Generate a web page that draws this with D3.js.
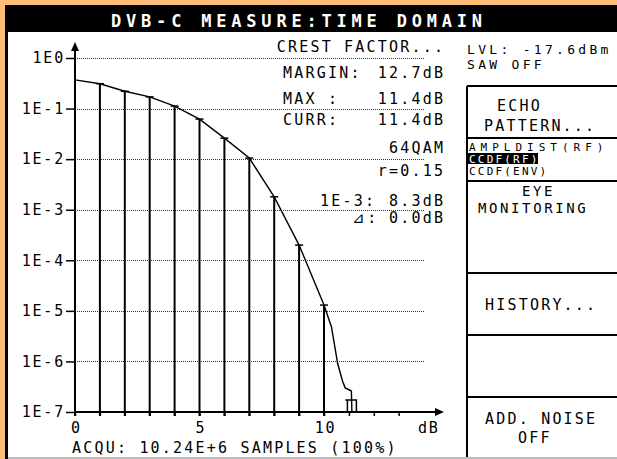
<!DOCTYPE html>
<html>
<head>
<meta charset="UTF-8">
<script src="https://d3js.org/d3.v7.min.js"></script>
<title>DVB-C CCDF</title>
<style>
  html,body{margin:0;padding:0;background:#fff;overflow:hidden;}
  #container{position:absolute;left:0;top:0;}
  svg{display:block;}
  text{font-family:"DejaVu Sans Mono",monospace;fill:#000;}
</style>
</head>
<body>
<div id="container"></div>
<script>
// CCDF curve (dB above mean power, probability)
var dbVals   = [0, 1, 2, 3, 4, 5, 6, 7, 8, 9, 10, 10.3, 10.55, 10.75, 10.85, 11.1, 11.12];
var ccdfVals = [0.37, 0.31, 0.22, 0.17, 0.112, 0.062, 0.026, 0.0105, 0.0018, 2.0e-4, 1.3e-5, 4.8e-6, 9e-7, 4e-7, 3e-7, 2.6e-7, 1e-7];
var barDb = [0, 1, 2, 3, 4, 5, 6, 7, 8, 9, 10];   // vertical bars at integer dB
var yTicks = [1, 1e-1, 1e-2, 1e-3, 1e-4, 1e-5, 1e-6, 1e-7];
var yLabels = ["1E0", "1E-1", "1E-2", "1E-3", "1E-4", "1E-5", "1E-6", "1E-7"];
var xTicks = [0, 1, 2, 3, 4, 5, 6, 7, 8, 9, 10, 11, 12, 13];
var xLabels = {0: "0", 5: "5", 10: "10"};
var maxMarkDb = 11.1;

var W = 617, H = 459;
var svg = d3.select("#container").append("svg")
  .attr("width", W).attr("height", H);

// screen frame
svg.append("rect").attr("x", 0).attr("y", 0).attr("width", W + 20).attr("height", H + 20).attr("fill", "#000");
svg.append("rect").attr("x", 0).attr("y", 0).attr("width", W + 20).attr("height", 5).attr("fill", "#FFBE78");
svg.append("rect").attr("x", 0).attr("y", 0).attr("width", 5).attr("height", H + 20).attr("fill", "#FFBE78");
svg.append("rect").attr("x", 8).attr("y", 32).attr("width", W + 20).attr("height", 425).attr("fill", "#fff");
svg.append("rect").attr("x", 8).attr("y", 457).attr("width", W + 20).attr("height", 20).attr("fill", "#bbb");
svg.append("text").attr("x", 111).attr("y", 27)
  .style("font-size", "17px").style("font-weight", "bold").style("letter-spacing", "4.8px")
  .style("fill", "#fff").text("DVB-C MEASURE:TIME DOMAIN");

var x = d3.scaleLinear().domain([0, 10]).range([75, 324]);
var y = d3.scaleLog().domain([1e-7, 1]).range([412, 58]);
var gridRight = 425;

// dotted grid
svg.selectAll(".grid").data(yTicks.slice(0, 7)).enter().append("line")
  .attr("x1", x(0)).attr("x2", gridRight)
  .attr("y1", function(d){ return Math.round(y(d)) + 0.5; })
  .attr("y2", function(d){ return Math.round(y(d)) + 0.5; })
  .attr("stroke", "#333").attr("stroke-width", 1).attr("stroke-dasharray", "1,1");

// axes
var yAxis = d3.axisLeft(y).tickValues(yTicks)
  .tickFormat(function(d, i){ return yLabels[i]; })
  .tickSize(9).tickPadding(1).tickSizeOuter(0);
var gy = svg.append("g").attr("transform", "translate(" + x(0) + ",0)").call(yAxis);
gy.select(".domain").remove();
gy.selectAll("line").attr("stroke", "#000").attr("stroke-width", 1.5);
gy.selectAll("text").style("font-size", "15px").style("letter-spacing", "1.8px")
  .attr("font-family", null);

var xAxis = d3.axisBottom(x).tickValues(xTicks)
  .tickFormat(function(d){ return xLabels[d] || ""; })
  .tickSize(4).tickPadding(6).tickSizeOuter(0);
var gx = svg.append("g").attr("transform", "translate(0," + y(1e-7) + ")").call(xAxis);
gx.select(".domain").remove();
gx.selectAll("line").attr("stroke", "#000").attr("stroke-width", 1.5);
gx.selectAll("text").style("font-size", "15px").style("letter-spacing", "1.8px")
  .attr("font-family", null).attr("dx", "1px");

// bars
svg.selectAll(".bar").data(barDb).enter().append("line")
  .attr("x1", function(d){ return x(d); }).attr("x2", function(d){ return x(d); })
  .attr("y1", function(d){ return y(ccdfVals[dbVals.indexOf(d)]); })
  .attr("y2", y(1e-7) + 4)
  .attr("stroke", "#000").attr("stroke-width", 2);

// axis lines with arrows
svg.append("line").attr("x1", x(0)).attr("x2", x(0)).attr("y1", y(1e-7) + 4).attr("y2", 50)
  .attr("stroke", "#000").attr("stroke-width", 2);
svg.append("path").attr("d", "M" + x(0) + ",42 l-4,9 h8 z").attr("fill", "#000");
svg.append("line").attr("x1", x(0)).attr("x2", 437).attr("y1", y(1e-7)).attr("y2", y(1e-7))
  .attr("stroke", "#000").attr("stroke-width", 2);
svg.append("path").attr("d", "M444," + y(1e-7) + " l-9,-4 v8 z").attr("fill", "#000");
svg.append("text").attr("x", 418).attr("y", 433).style("font-size", "15px").style("letter-spacing", "1.8px").text("dB");

// curve
var line = d3.line().x(function(d){ return x(d[0]); }).y(function(d){ return y(d[1]); });
var pts = dbVals.map(function(d, i){ return [d, ccdfVals[i]]; });
svg.append("path").datum(pts).attr("d", line)
  .attr("fill", "none").attr("stroke", "#000").attr("stroke-width", 1.4);
svg.selectAll(".mk").data(pts.filter(function(d){ return d[0] >= 1 && d[0] <= 10 && d[0] % 1 === 0; }))
  .enter().append("line")
  .attr("x1", function(d){ return x(d[0]) - 4; }).attr("x2", function(d){ return x(d[0]) + 4; })
  .attr("y1", function(d){ return y(d[1]); }).attr("y2", function(d){ return y(d[1]); })
  .attr("stroke", "#000").attr("stroke-width", 1.5);

// max crest marker
var mx = x(maxMarkDb);
svg.append("path").attr("d", "M" + (mx - 4) + "," + y(1e-7) + " V400 H" + (mx + 5) + " V" + y(1e-7)
  + " M" + (mx - 6) + ",400 H" + (mx - 3))
  .attr("fill", "none").attr("stroke", "#000").attr("stroke-width", 1.5);

// text helpers
function txt(tx, ty, s, anchor, size, ls){
  var sp = (ls === undefined ? 2.2 : ls);
  var t = svg.append("text").attr("x", tx).attr("y", ty)
    .style("font-size", (size || 15) + "px").style("letter-spacing", sp + "px").text(s);
  if (anchor === "end") t.attr("text-anchor", "end").attr("dx", sp + "px");
  return t;
}
txt(443, 52, "CREST FACTOR...", "end");
txt(283, 78, "MARGIN:");
txt(443, 78, "12.7dB", "end");
txt(283, 104, "MAX  :");
txt(443, 104, "11.4dB", "end");
txt(283, 125, "CURR:");
txt(443, 125, "11.4dB", "end");
txt(443, 153, "64QAM", "end");
txt(443, 176, "r=0.15", "end");
txt(320, 206, "1E-3:");
txt(443, 206, "8.3dB", "end");
txt(352, 223, "⊿:");
txt(443, 223, "0.0dB", "end");
txt(72, 453, "ACQU: 10.24E+6 SAMPLES (100%)");

// right panel
var panelX = 467;
var seps = [86, 138, 181, 273, 335, 397];
svg.append("line").attr("x1", panelX).attr("x2", panelX).attr("y1", 86).attr("y2", 457)
  .attr("stroke", "#000").attr("stroke-width", 2);
svg.selectAll(".sep").data(seps).enter().append("line")
  .attr("x1", panelX).attr("x2", W + 20).attr("y1", function(d){ return d; }).attr("y2", function(d){ return d; })
  .attr("stroke", "#000").attr("stroke-width", 2);
txt(467, 54, "LVL: -17.6dBm", null, 13, 3.3);
txt(467, 69, "SAW OFF", null, 13, 3.3);
txt(497, 111, "ECHO");
txt(484, 131, "PATTERN...");
txt(469, 151, "AMPLDIST(RF)", null, 11, 5.0);
svg.append("rect").attr("x", 468).attr("y", 153).attr("width", 70).attr("height", 11).attr("fill", "#000");
txt(469, 163, "CCDF(RF)", null, 11, 2.2).style("fill", "#fff");
txt(469, 175, "CCDF(ENV)", null, 11, 2.2);
txt(522, 196, "EYE", null, 14, 2.6);
txt(478, 213, "MONITORING", null, 14, 2.6);
txt(485, 310, "HISTORY...");
txt(485, 424, "ADD. NOISE");
txt(518, 443, "OFF");
</script>
</body>
</html>
